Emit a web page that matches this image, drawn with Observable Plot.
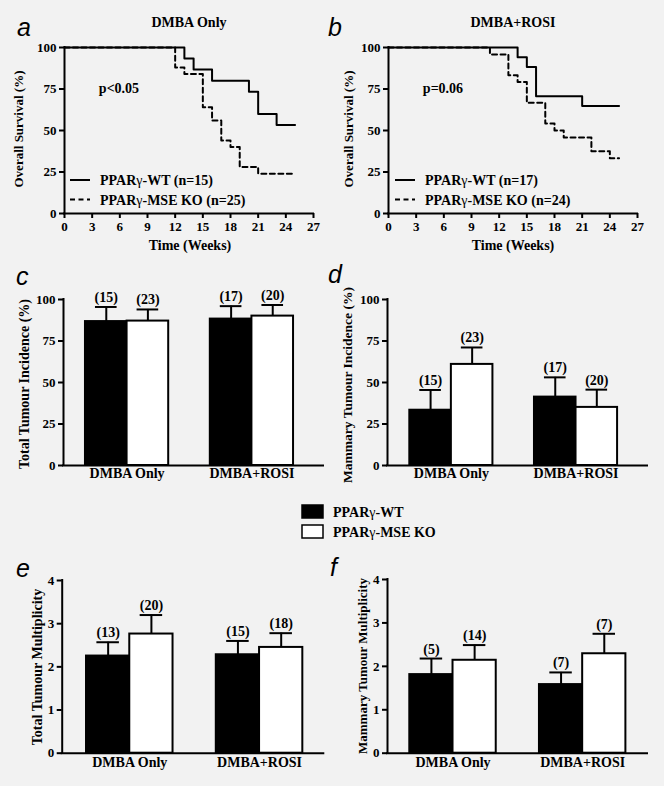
<!DOCTYPE html>
<html><head><meta charset="utf-8">
<script src="https://cdn.jsdelivr.net/npm/d3@7"></script>
<script src="https://cdn.jsdelivr.net/npm/@observablehq/plot@0.6"></script>
<style>
html,body{margin:0;padding:0;background:#f2f2f2;}
#fig{position:relative;width:664px;height:786px;background:#f2f2f2;overflow:hidden;}
#fig svg{position:absolute;}
</style></head><body><div id="fig"></div>
<script>
// ---------- DATA ----------
const weekTicks = [0,3,6,9,12,15,18,21,24,27];
const survTicks = [0,25,50,75,100];
// Panel a: DMBA Only (Kaplan-Meier steps)
const aWT_weeks = [0,13,14,16,20,21,23,25];
const aWT_surv  = [100,93.3,86.7,80,73.3,60,53.3,53.3];
const aKO_weeks = [0,12,13,15,16,17,18,19,21,24.7];
const aKO_surv  = [100,88,84,64,56,44,40,28,24,24];
// Panel b: DMBA+ROSI
const bWT_weeks = [0,14,15,16,21,25];
const bWT_surv  = [100,94.1,88.2,70.6,64.7,64.7];
const bKO_weeks = [0,11,13,14,15,17,18,19,22,24,25];
const bKO_surv  = [100,95.8,83.3,79.2,66.7,54.2,50,45.8,37.5,33.3,33.3];

const groups = ["DMBA Only","DMBA+ROSI"];
const genotypes = ["PPARγ-WT","PPARγ-MSE KO"];
const pctTicks = [0,25,50,75,100];
const multTicks = [0,1,2,3,4];
// Panel c: total tumour incidence (%)
const cWT = [86.7,88.2], cWTsem = [8.8,7.8], cWTn = [15,17];
const cKO = [87.0,90.0], cKOsem = [7.0,6.7], cKOn = [23,20];
// Panel d: mammary tumour incidence (%)
const dWT = [33.3,41.2], dWTsem = [12.2,11.9], dWTn = [15,17];
const dKO = [60.9,35.0], dKOsem = [10.2,10.7], dKOn = [23,20];
// Panel e: total tumour multiplicity
const eWT = [2.25,2.28], eWTsem = [0.32,0.32], eWTn = [13,15];
const eKO = [2.76,2.45], eKOsem = [0.44,0.33], eKOn = [20,18];
// Panel f: mammary tumour multiplicity
const fWT = [1.81,1.58], fWTsem = [0.37,0.28], fWTn = [5,7];
const fKO = [2.14,2.29], fKOsem = [0.35,0.46], fKOn = [14,7];

// ---------- STYLE ----------
const SERIF = '"Liberation Serif","Times New Roman",serif';
const baseStyle = {background:"transparent", fontFamily:SERIF, fontSize:"13px", fontWeight:"bold", color:"black", overflow:"visible"};
const fig = document.getElementById("fig");
function place(svg, left, top){ svg.style.left = left+"px"; svg.style.top = top+"px"; fig.appendChild(svg); }

function survivalPanel(o){
  const rows = (t,s)=>t.map((x,i)=>({t:x, s:s[i]}));
  return Plot.plot({
    width:332, height:260, marginTop:47, marginBottom:47, marginLeft:o.ml, marginRight:o.mr,
    x:{domain:[0,27], label:null}, y:{domain:[0,100], label:null},
    style:baseStyle,
    marks:[
      Plot.line(rows(o.koT,o.koS),{x:"t",y:"s",curve:"step-after",stroke:"black",strokeWidth:2,strokeDasharray:"5,3.5"}),
      Plot.line(rows(o.wtT,o.wtS),{x:"t",y:"s",curve:"step-after",stroke:"black",strokeWidth:2}),
      Plot.ruleY([0],{stroke:"black",strokeWidth:2,strokeLinecap:"square"}),
      Plot.ruleX([0],{stroke:"black",strokeWidth:2,strokeLinecap:"square"}),
      Plot.axisX({ticks:weekTicks,tickSize:5,tickPadding:3,strokeWidth:2,label:null,fontSize:13,tickFormat:d=>d}),
      Plot.axisY({ticks:survTicks,tickSize:5,tickPadding:3,strokeWidth:2,label:null,fontSize:13,tickFormat:d=>d})
    ]
  });
}

function barPanel(o){
  const rows = [];
  groups.forEach((g,gi)=>{
    [[o.wt,o.wtSem,o.wtN,"black"],[o.ko,o.koSem,o.koN,"white"]].forEach(([v,s,n,fill],k)=>{
      rows.push({group:g, geno:genotypes[k], x1:gi*3+k, x2:gi*3+k+1, xc:gi*3+k+0.5, v:v[gi], top:v[gi]+s[gi], n:n[gi], fill});
    });
  });
  const centers = groups.map((g,gi)=>gi*3+1);
  return Plot.plot({
    width:332, height:o.height, marginTop:o.mt, marginBottom:o.mb, marginLeft:o.ml, marginRight:o.mr,
    x:{type:"linear", domain:o.xDomain, label:null}, y:{domain:[o.yTicks[0], o.yTicks[o.yTicks.length-1]], label:null},
    style:baseStyle,
    marks:[
      Plot.rect(rows,{x1:"x1",x2:"x2",y1:0,y2:"v",fill:"fill",stroke:"black",strokeWidth:2}),
      Plot.ruleX(rows,{x:"xc",y1:"v",y2:"top",stroke:"black",strokeWidth:2}),
      Plot.ruleY(rows,{y:"top",x1:d=>d.xc-0.26,x2:d=>d.xc+0.26,stroke:"black",strokeWidth:2}),
      Plot.text(rows,{x:"xc",y:"top",text:d=>`(${d.n})`,lineAnchor:"bottom",dy:-5,fontSize:14,fontWeight:"bold",fontFamily:SERIF}),
      Plot.ruleY([o.yTicks[0]],{stroke:"black",strokeWidth:2,strokeLinecap:"square"}),
      Plot.ruleX([o.xDomain[0]],{stroke:"black",strokeWidth:2,strokeLinecap:"square"}),
      Plot.axisY({ticks:o.yTicks,tickSize:5,tickPadding:3,strokeWidth:2,label:null,fontSize:13,tickFormat:d=>d}),
      Plot.axisX({ticks:centers,tickSize:0,tickPadding:o.xPad,label:null,fontSize:14,tickFormat:d=>groups[(d-1)/3]})
    ]
  });
}

place(survivalPanel({wtT:aWT_weeks,wtS:aWT_surv,koT:aKO_weeks,koS:aKO_surv,ml:64,mr:19}),0,0);
place(survivalPanel({wtT:bWT_weeks,wtS:bWT_surv,koT:bKO_weeks,koS:bKO_surv,ml:56,mr:27}),332,0);
place(barPanel({wt:cWT,wtSem:cWTsem,wtN:cWTn,ko:cKO,koSem:cKOsem,koN:cKOn,yTicks:pctTicks,
  height:230,mt:39,mb:25,ml:63,mr:9,xDomain:[-0.528,5.72],xPad:3}),0,260);
place(barPanel({wt:dWT,wtSem:dWTsem,wtN:dWTn,ko:dKO,koSem:dKOsem,koN:dKOn,yTicks:pctTicks,
  height:230,mt:39,mb:25,ml:55,mr:17,xDomain:[-0.537,5.72],xPad:3}),332,260);
place(barPanel({wt:eWT,wtSem:eWTsem,wtN:eWTn,ko:eKO,koSem:eKOsem,koN:eKOn,yTicks:multTicks,
  height:240,mt:40,mb:27.3,ml:61.7,mr:8.7,xDomain:[-0.562,5.485],xPad:4}),0,540);
place(barPanel({wt:fWT,wtSem:fWTsem,wtN:fWTn,ko:fKO,koSem:fKOsem,koN:fKOn,yTicks:multTicks,
  height:240,mt:39,mb:27.3,ml:55,mr:17,xDomain:[-0.516,5.50],xPad:4}),332,540);

// ---------- TEXT OVERLAY ----------
const ov = d3.select(fig).append("svg").attr("width",664).attr("height",786).style("left","0px").style("top","0px")
  .style("font-family",SERIF).style("font-weight","bold");
const letters = [["a",17,36],["b",328,36],["c",16,285],["d",328,283],["e",16,577],["f",330,576]];
letters.forEach(([t,x,y])=>ov.append("text").attr("x",x).attr("y",y).text(t)
  .style("font-family",'"Liberation Sans",Arial,sans-serif').style("font-style","italic").style("font-weight","normal").style("font-size","25px"));
[["DMBA Only",189,27],["DMBA+ROSI",513,27]].forEach(([t,x,y])=>ov.append("text").attr("x",x).attr("y",y).attr("text-anchor","middle").style("font-size","14px").text(t));
[["Time (Weeks)",190,250],["Time (Weeks)",513,250]].forEach(([t,x,y])=>ov.append("text").attr("x",x).attr("y",y).attr("text-anchor","middle").style("font-size","14px").text(t));
[["p<0.05",119,93],["p=0.06",443,93]].forEach(([t,x,y])=>ov.append("text").attr("x",x).attr("y",y).attr("text-anchor","middle").style("font-size","14px").text(t));
const ylabels = [["Overall Survival (%)",23,129,13],["Overall Survival (%)",353,129,13],
  ["Total Tumour Incidence (%)",29,384,14],["Mammary Tumour Incidence (%)",352,385,13.5],
  ["Total Tumour Multiplicity",42,667,14],["Mammary Tumour Multiplicity",367,666,13]];
ylabels.forEach(([t,x,y,fs])=>ov.append("text").attr("transform",`translate(${x},${y}) rotate(-90)`).attr("text-anchor","middle").style("font-size",fs+"px").text(t));
// survival legends
function gammaText(sel,x,y,pre,post,fs){
  const t = sel.append("text").attr("x",x).attr("y",y).style("font-size",fs+"px");
  t.append("tspan").text(pre);
  t.append("tspan").style("font-weight","normal").text("γ");
  t.append("tspan").text(post);
}
[[70,100,[" (n=15)"," (n=25)"]],[395,425,[" (n=17)"," (n=24)"]]].forEach(([lx,tx,ns])=>{
  ov.append("line").attr("x1",lx).attr("x2",lx+20).attr("y1",180).attr("y2",180).attr("stroke","black").attr("stroke-width",2);
  ov.append("line").attr("x1",lx).attr("x2",lx+20).attr("y1",199.5).attr("y2",199.5).attr("stroke","black").attr("stroke-width",2).attr("stroke-dasharray","5,3.5");
  gammaText(ov,tx,185,"PPAR","-WT"+ns[0],14);
  gammaText(ov,tx,204.5,"PPAR","-MSE KO"+ns[1],14);
});
// central legend for bar panels
ov.append("rect").attr("x",302).attr("y",505).attr("width",21).attr("height",13).attr("fill","black").attr("stroke","black").attr("stroke-width",1.5);
ov.append("rect").attr("x",302).attr("y",525).attr("width",21).attr("height",13).attr("fill","white").attr("stroke","black").attr("stroke-width",1.5);
gammaText(ov,333,517,"PPAR","-WT",14);
gammaText(ov,333,536.5,"PPAR","-MSE KO",14);
</script></body></html>
